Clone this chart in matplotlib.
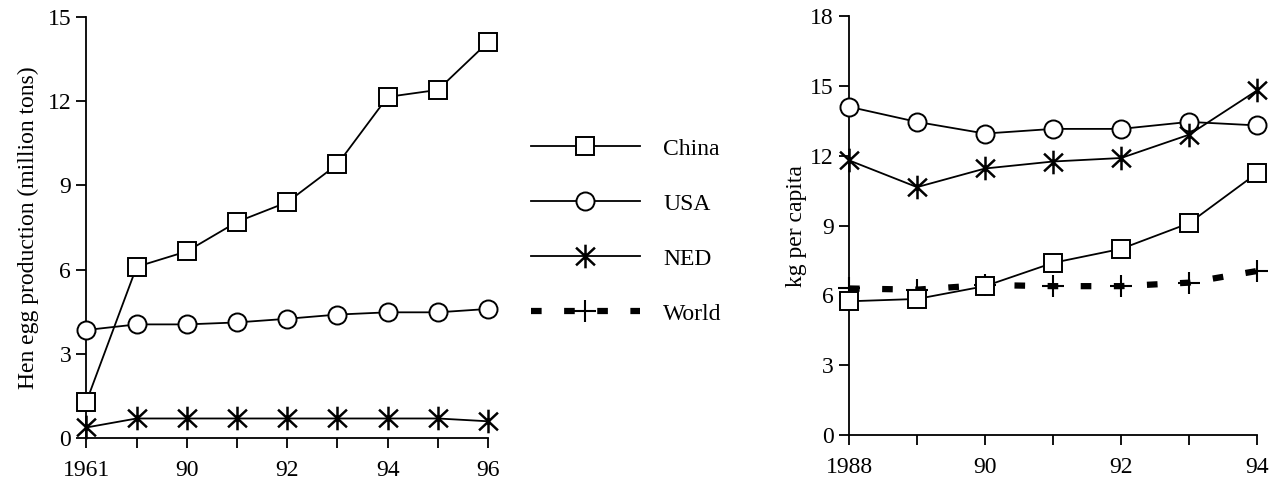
import matplotlib
matplotlib.use('Agg')
import matplotlib.pyplot as plt
from matplotlib.path import Path

plt.rcParams['font.family'] = 'serif'
plt.rcParams['font.serif'] = ['Liberation Serif', 'DejaVu Serif']

# --- left panel: hen egg production (million tons) ---
years_left = ['1961', '89', '90', '91', '92', '93', '94', '95', '96']
left_labels = ['1961', '', '90', '', '92', '', '94', '', '96']
china_prod = [1.3, 6.1, 6.65, 7.7, 8.4, 9.75, 12.15, 12.4, 14.1]
usa_prod = [3.85, 4.05, 4.05, 4.12, 4.25, 4.4, 4.48, 4.48, 4.6]
ned_prod = [0.38, 0.7, 0.7, 0.7, 0.7, 0.7, 0.7, 0.7, 0.6]

# --- right panel: kg per capita ---
years_right = ['1988', '89', '90', '91', '92', '93', '94']
right_labels = ['1988', '', '90', '', '92', '', '94']
china_cap = [5.75, 5.85, 6.4, 7.4, 8.0, 9.1, 11.25]
usa_cap = [14.1, 13.45, 12.95, 13.15, 13.15, 13.45, 13.3]
ned_cap = [11.8, 10.65, 11.45, 11.75, 11.9, 12.9, 14.8]
world_cap = [6.3, 6.25, 6.45, 6.4, 6.4, 6.55, 7.05]

# asterisk marker: vertical bar plus an X
ast = Path([(0, -1), (0, 1), (-0.8, -0.75), (0.8, 0.75), (-0.8, 0.75), (0.8, -0.75)],
           [Path.MOVETO, Path.LINETO] * 3)

line_kw = dict(color='black', lw=1.3, clip_on=False, zorder=5)
sq = dict(marker='s', ms=13, mfc='white', mec='black', mew=1.4)
ci = dict(marker='o', ms=13, mfc='white', mec='black', mew=1.4)
st = dict(marker=ast, ms=17, mfc='none', mec='black', mew=1.8)
wo = dict(marker='+', ms=16, mec='black', mew=1.5)

fig = plt.figure(figsize=(12.71, 4.82), dpi=100)
ax1 = fig.add_axes([0.068, 0.091, 0.316, 0.874])
ax2 = fig.add_axes([0.668, 0.097, 0.321, 0.870])

xl = range(len(years_left))
h_china, = ax1.plot(xl, china_prod, label='China', **line_kw, **sq)
h_usa, = ax1.plot(xl, usa_prod, label='USA', **line_kw, **ci)
h_ned, = ax1.plot(xl, ned_prod, label='NED', **line_kw, **st)

xr = range(len(years_right))
ax2.plot(xr, usa_cap, **line_kw, **ci)
ax2.plot(xr, ned_cap, **line_kw, **st)
ax2.plot(xr, china_cap, **line_kw, **sq)
h_world, = ax2.plot(xr, world_cap, label='World', color='black', lw=4.5,
                    dashes=(1.7, 3.6), clip_on=False, zorder=4, **wo)

for ax, labels, ymax in [(ax1, left_labels, 15), (ax2, right_labels, 18)]:
    ax.set_xlim(0, len(labels) - 1)
    ax.set_ylim(0, ymax)
    ax.set_xticks(range(len(labels)))
    ax.set_xticklabels(labels)
    ax.set_yticks(range(0, ymax + 1, 3))
    for s in ['top', 'right']:
        ax.spines[s].set_visible(False)
    ax.spines['left'].set_linewidth(1.3)
    ax.spines['bottom'].set_linewidth(1.3)
    ax.tick_params(direction='out', length=7, width=1.3, labelsize=17, pad=4)
    ax.tick_params(axis='x', pad=9)

ax1.set_ylabel('Hen egg production (million tons)', fontsize=17, labelpad=6)
ax2.set_ylabel('kg per capita', fontsize=17, labelpad=2)

fig.legend(handles=[h_china, h_usa, h_ned, h_world],
           labels=['China', 'USA', 'NED', 'World'],
           loc='upper left', bbox_to_anchor=(531 / 1271, 1 - 138 / 482),
           frameon=False, fontsize=17, handlelength=4.6, handletextpad=1.0,
           labelspacing=1.42, borderpad=0, borderaxespad=0, numpoints=1)

fig.savefig('out.png', dpi=100)
